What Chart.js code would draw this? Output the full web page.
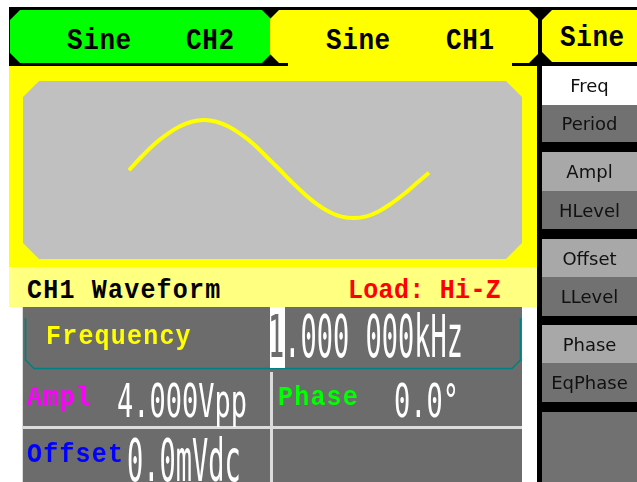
<!DOCTYPE html>
<html>
<head>
<meta charset="utf-8">
<script src="https://cdn.jsdelivr.net/npm/chart.js@4.4.1/dist/chart.umd.min.js"></script>
<style>
  html, body { margin: 0; padding: 0; background: #fff; }
  #screen { position: relative; width: 637px; height: 482px; overflow: hidden; background: #fff; }
  .box { position: absolute; }
  .bm { position: absolute; font-family: 'Liberation Mono', monospace; font-weight: bold; font-size: 25px;
        line-height: 25px; letter-spacing: 1.2px; white-space: pre; transform-origin: left top; transform: scaleY(1.08); }
  .tab { font-size: 26px; line-height: 26px; letter-spacing: 0.6px; transform: scaleY(1.15); color: #000; }
  .big { position: absolute; font-family: 'DejaVu Sans Mono', monospace; font-size: 27px; line-height: 27px;
         color: #fff; white-space: pre; transform-origin: left top; }
  .btn { position: absolute; left: 542px; width: 95px; display: flex; align-items: center; justify-content: center;
         font-family: 'DejaVu Sans', sans-serif; font-size: 18px; color: #111; }
  .dark { background: #717171; }
  .light { background: #a8a8a8; }
</style>
</head>
<body>
<div id="screen">
  <!-- top black band with tabs -->
  <div class="box" style="left:9px;top:7px;width:628px;height:59px;background:#000"></div>
  <div class="box" style="left:10px;top:10px;width:262px;height:53px;background:#00ff00;
       clip-path:polygon(10px 0,252px 0,262px 10px,262px 43px,252px 53px,10px 53px,0 43px,0 10px)"></div>
  <div class="box" style="left:270px;top:10px;width:268px;height:53px;background:#ffff00;
       clip-path:polygon(9px 0,259px 0,268px 9px,268px 44px,259px 53px,9px 53px,0 44px,0 9px)"></div>
  <div class="box" style="left:288px;top:60px;width:224px;height:7px;background:#ffff00"></div>
  <div class="box" style="left:542px;top:10px;width:100px;height:52px;background:#ffff00;
       clip-path:polygon(10px 0,100px 0,100px 52px,10px 52px,0 42px,0 10px)"></div>

  <div class="bm tab" style="left:67px;top:26px">Sine</div>
  <div class="bm tab" style="left:186px;top:26px">CH2</div>
  <div class="bm tab" style="left:326px;top:26px">Sine</div>
  <div class="bm tab" style="left:446px;top:26px">CH1</div>
  <div class="bm tab" style="left:560px;top:23px">Sine</div>

  <!-- yellow body and waveform area -->
  <div class="box" style="left:9px;top:66px;width:528px;height:201px;background:#ffff00"></div>
  <div class="box" style="left:23px;top:81px;width:499px;height:178px;background:#c0c0c0;
       clip-path:polygon(16px 0,483px 0,499px 16px,499px 162px,483px 178px,16px 178px,0 162px,0 16px)"></div>
  <div class="box" style="left:23px;top:81px;width:499px;height:178px">
    <canvas id="wave"></canvas>
  </div>

  <div class="box" style="left:9px;top:267px;width:528px;height:40px;background:#ffff80"></div>
  <div class="bm" style="left:27px;top:277px;color:#000">CH1 Waveform</div>
  <div class="bm" style="left:348px;top:277px;color:#ff0000;letter-spacing:0.3px">Load: Hi-Z</div>

  <!-- parameter rows -->
  <div class="box" style="left:22px;top:307px;width:500px;height:175px;background:#dcdcdc"></div>
  <div class="box" style="left:23px;top:307px;width:499px;height:65px;background:#6c6c6c"></div>
  <div class="box" style="left:23px;top:372px;width:247px;height:54px;background:#6c6c6c"></div>
  <div class="box" style="left:273px;top:372px;width:249px;height:54px;background:#6c6c6c"></div>
  <div class="box" style="left:23px;top:429px;width:247px;height:53px;background:#6c6c6c"></div>
  <div class="box" style="left:273px;top:429px;width:249px;height:53px;background:#6c6c6c"></div>
  <svg class="box" style="left:0;top:0" width="637" height="482">
    <polyline points="25.5,318 25.5,360 34,368.5 512,368.5 520.5,360 520.5,318" fill="none" stroke="#008080" stroke-width="1.6"/>
  </svg>
  <div class="box" style="left:270px;top:307px;width:15px;height:61px;background:#fff"></div>

  <div class="bm" style="left:46px;top:323px;color:#ffff00">Frequency</div>
  <div class="big" style="left:268px;top:306px;transform:scaleY(2.2)"><span style="color:#6c6c6c">1</span>.000 000kHz</div>
  <div class="bm" style="left:27px;top:384px;color:#ff00ff">Ampl</div>
  <div class="big" style="left:117px;top:378px;transform:scaleY(1.7)">4.000Vpp</div>
  <div class="bm" style="left:278px;top:384px;color:#00ff00">Phase</div>
  <div class="big" style="left:394px;top:378px;transform:scaleY(1.7)">0.0°</div>
  <div class="bm" style="left:27px;top:441px;color:#0000ff">Offset</div>
  <div class="big" style="left:127px;top:430px;transform:scaleY(2.2)">0.0mVdc</div>

  <!-- soft key column -->
  <div class="box" style="left:537px;top:62px;width:100px;height:420px;background:#000"></div>
  <div class="btn" style="top:66px;height:39px;background:#fff">Freq</div>
  <div class="btn dark" style="top:105px;height:37px">Period</div>
  <div class="btn light" style="top:152px;height:39px">Ampl</div>
  <div class="btn dark" style="top:191px;height:38px">HLevel</div>
  <div class="btn light" style="top:239px;height:38px">Offset</div>
  <div class="btn dark" style="top:277px;height:39px">LLevel</div>
  <div class="btn light" style="top:325px;height:38px">Phase</div>
  <div class="btn dark" style="top:363px;height:39px">EqPhase</div>
  <div class="btn dark" style="top:412px;height:70px"></div>
</div>

<script>
'use strict';

// one cycle of the CH1 sine as drawn on screen
let phaseDeg = [0, 15, 30, 45, 60, 75, 90, 105, 120, 135, 150, 165, 180,
                195, 210, 225, 240, 255, 270, 285, 300, 315, 330, 345, 360];
let voltage = [-0.05, 0.5, 1.0, 1.4, 1.72, 1.93, 2.0, 1.93, 1.72, 1.4, 1.0, 0.5, 0.0,
               -0.52, -1.0, -1.42, -1.74, -1.94, -2.0, -1.93, -1.72, -1.4, -1.02, -0.58, -0.15];

let points = [];
for (let i = 0; i < phaseDeg.length; i++) {
    points.push({ x: phaseDeg[i], y: voltage[i] });
}

let ctx = document.getElementById('wave').getContext('2d');
let chart = new Chart(ctx, {
    type: 'line',
    data: {
        datasets: [{
            data: points,
            borderColor: '#ffff00',
            borderWidth: 4,
            pointRadius: 0,
            tension: 0.4,
            fill: false
        }]
    },
    options: {
        responsive: true,
        maintainAspectRatio: false,
        animation: false,
        layout: { padding: 0 },
        plugins: { legend: { display: false }, tooltip: { enabled: false } },
        scales: {
            x: { type: 'linear', display: false, min: -127.2, max: 471.6 },
            y: { display: false, min: -3.67, max: 3.59 }
        }
    }
});
</script>
</body>
</html>
